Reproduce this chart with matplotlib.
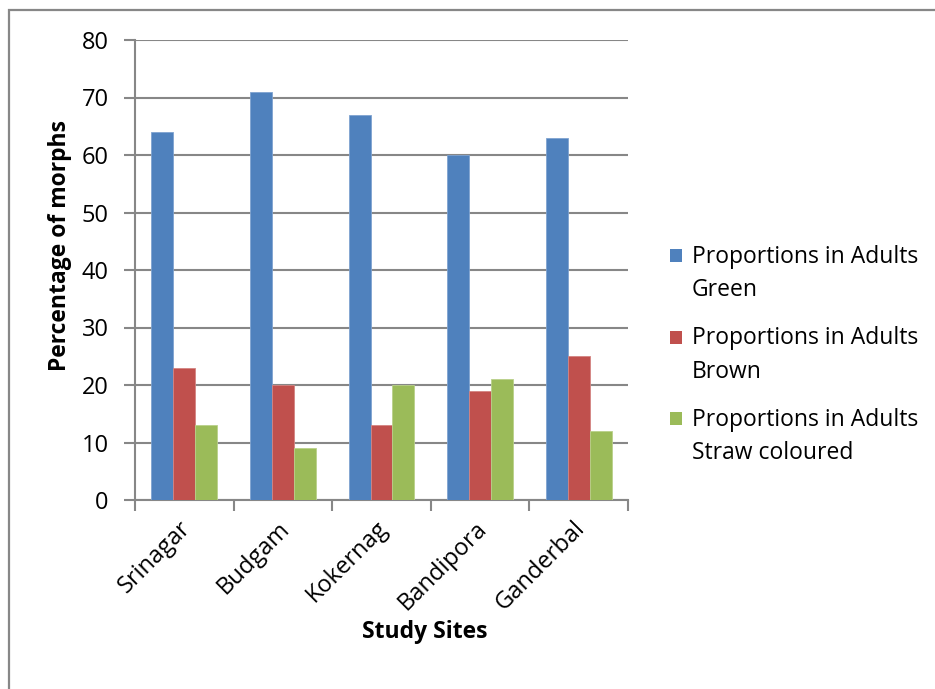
import matplotlib
matplotlib.use("Agg")
import matplotlib.pyplot as plt
from matplotlib.patches import Rectangle
import numpy as np

plt.rcParams['font.family'] = ['Open Sans', 'DejaVu Sans']

sites = ["Srinagar", "Budgam", "Kokernag", "Bandipora", "Ganderbal"]
series_names = ["Proportions in Adults Green",
                 "Proportions in Adults Brown",
                 "Proportions in Adults Straw coloured"]
green = [64, 71, 67, 60, 63]
brown = [23, 20, 13, 19, 25]
straw = [13, 9, 20, 21, 12]
y_ticks = [0, 10, 20, 30, 40, 50, 60, 70, 80]

colors = ["#4F81BD", "#C0504D", "#9BBB59"]
edge_colors = ["#7FA3D0", "#D48482", "#B9D18A"]
grid_gray = "#878787"
FS = 16.5

W, H = 935, 689
fig = plt.figure(figsize=(W / 100, H / 100), dpi=100)

# chart-area border (left and top edges visible)
fig.patches.append(Rectangle((9 / W, -0.2), 1.5, 1.2 - 10 / H,
                             transform=fig.transFigure, fill=False,
                             edgecolor=grid_gray, linewidth=1.6))

ax = fig.add_axes([135 / W, 1 - 500 / H, (628 - 135) / W, (500 - 40) / H])

x = np.arange(len(sites)) + 0.5
bw = 0.223
for k, vals in enumerate([green, brown, straw]):
    ax.bar(x + (k - 1) * bw, vals, width=bw, color=colors[k],
           edgecolor=edge_colors[k], linewidth=0.6, zorder=3)

ax.set_xlim(0, len(sites))
ax.set_ylim(0, 80)
ax.set_yticks(y_ticks)
ax.set_yticklabels([str(v) for v in y_ticks], fontsize=17)
ax.yaxis.grid(True, color=grid_gray, linewidth=1.5, zorder=0)
ax.set_axisbelow(True)

ax.set_xticks(np.arange(len(sites) + 1))
ax.set_xticklabels([])
ax.tick_params(axis='x', length=8, width=1.5, color=grid_gray, direction='out')
ax.tick_params(axis='y', length=8, width=1.5, color=grid_gray, direction='out', pad=11)

for s in ['top', 'right']:
    ax.spines[s].set_visible(False)
for s in ['left', 'bottom']:
    ax.spines[s].set_color(grid_gray)
    ax.spines[s].set_linewidth(1.5)

# rotated category labels
for xi, name in zip(x, sites):
    ax.annotate(name, xy=(xi, 0), xycoords=('data', 'axes fraction'),
                xytext=(3, -25), textcoords='offset pixels',
                rotation=45, ha='right', va='center', rotation_mode='anchor',
                fontsize=17)

fig.text(60 / W, 1 - 246 / H, "Percentage of morphs", rotation=90,
         ha='center', va='center', fontsize=FS, fontweight='bold')
fig.text(425 / W, 1 - 632 / H, "Study Sites", ha='center', va='center',
         fontsize=FS, fontweight='bold')

# legend: colour square followed by a two-line label
prefix = "Proportions in Adults"
for k, name in enumerate(series_names):
    top = 249 + k * 81.5
    fig.patches.append(Rectangle((670 / W, 1 - (top + 13) / H), 12 / W, 13 / H,
                                 transform=fig.transFigure, facecolor=colors[k],
                                 edgecolor='none'))
    first, second = name[:len(prefix)], name[len(prefix) + 1:]
    fig.text(692 / W, 1 - (top + 14) / H, first, ha='left', va='baseline', fontsize=FS)
    fig.text(692 / W, 1 - (top + 47) / H, second, ha='left', va='baseline', fontsize=FS)

fig.savefig("out.png", dpi=100)
